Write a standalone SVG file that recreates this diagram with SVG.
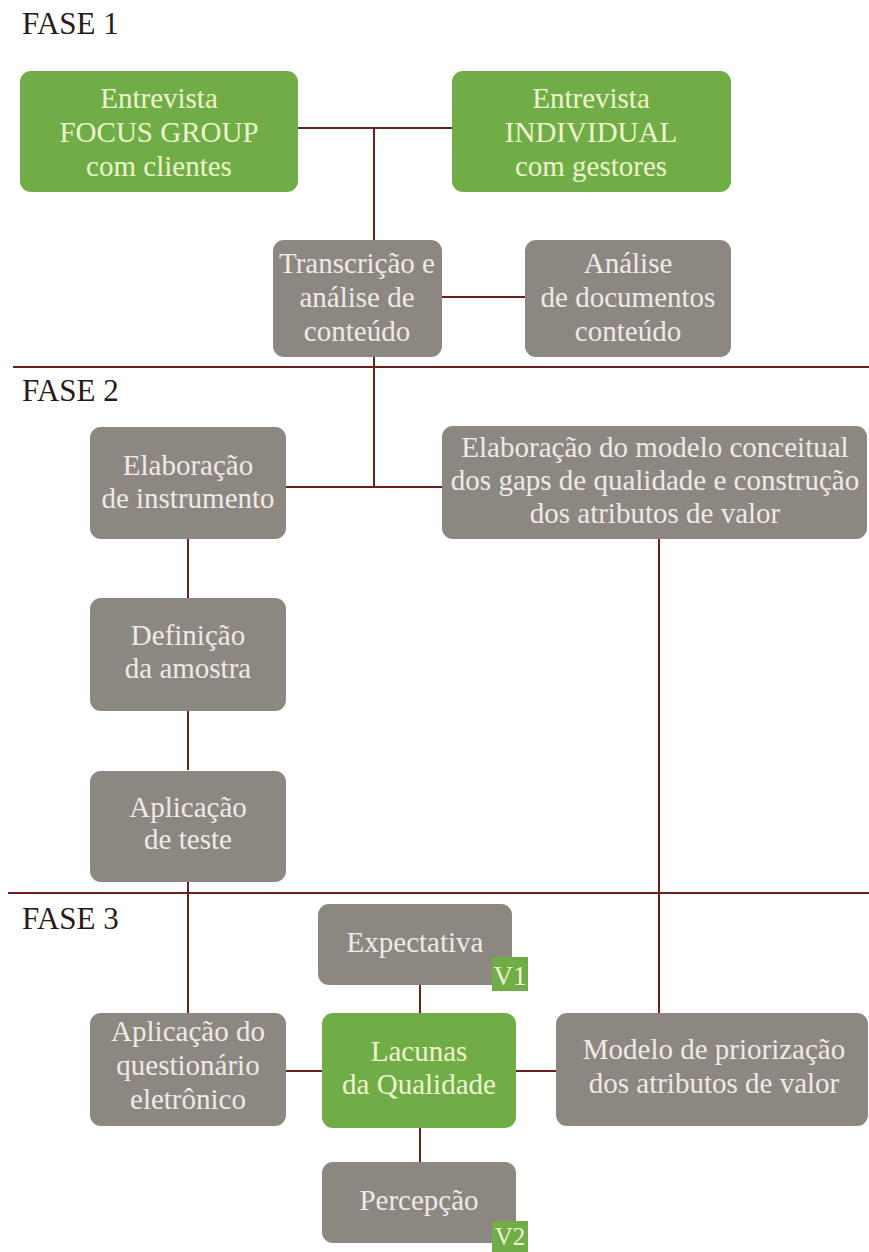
<svg xmlns="http://www.w3.org/2000/svg" width="869" height="1252" viewBox="0 0 869 1252">
<style>
.g{fill:#70ad47}
.y{fill:#8d8782}
.t{font-family:'Liberation Serif','Times New Roman',serif;font-size:29px;text-anchor:middle}
.tg{fill:#eef5cf}
.ty{fill:#efeae6}
.ph{font-family:'Liberation Serif','Times New Roman',serif;font-size:31px;fill:#2a1a14}
.ln{stroke:#6e1f1c;stroke-width:2;fill:none}
.v{font-size:27px}
</style>
<rect width="869" height="1252" fill="#ffffff"/>
<g id="phases">
<text class="ph" x="22" y="34">FASE 1</text>
<text class="ph" x="22" y="401">FASE 2</text>
<text class="ph" x="22" y="929">FASE 3</text>
</g>
<g id="connectors" class="ln">
<line x1="13" y1="367" x2="869" y2="367"/>
<line x1="8" y1="893" x2="869" y2="893"/>
<line x1="298" y1="128" x2="452" y2="128"/>
<line x1="374" y1="128" x2="374" y2="240"/>
<line x1="442" y1="297" x2="525" y2="297"/>
<line x1="374" y1="357" x2="374" y2="487"/>
<line x1="286" y1="487" x2="442" y2="487"/>
<line x1="188" y1="539" x2="188" y2="598"/>
<line x1="188" y1="711" x2="188" y2="770"/>
<line x1="188" y1="880" x2="188" y2="1013"/>
<line x1="659" y1="539" x2="659" y2="1013"/>
<line x1="420" y1="985" x2="420" y2="1013"/>
<line x1="286" y1="1071" x2="322" y2="1071"/>
<line x1="516" y1="1071" x2="556" y2="1071"/>
<line x1="420" y1="1128" x2="420" y2="1162"/>
</g>
<g id="n1"><rect class="g" x="20" y="71" width="278" height="121" rx="11"/>
<text class="t tg" x="159" y="108">Entrevista</text><text class="t tg" x="159" y="142">FOCUS GROUP</text><text class="t tg" x="159" y="176">com clientes</text></g>
<g id="n2"><rect class="g" x="452" y="71" width="279" height="121" rx="11"/>
<text class="t tg" x="591" y="108">Entrevista</text><text class="t tg" x="591" y="142">INDIVIDUAL</text><text class="t tg" x="591" y="176">com gestores</text></g>
<g id="n3"><rect class="y" x="273" y="240" width="169" height="117" rx="11"/>
<text class="t ty" x="357" y="273">Transcrição e</text><text class="t ty" x="357" y="307">análise de</text><text class="t ty" x="357" y="341">conteúdo</text></g>
<g id="n4"><rect class="y" x="525" y="240" width="206" height="117" rx="11"/>
<text class="t ty" x="628" y="273">Análise</text><text class="t ty" x="628" y="307">de documentos</text><text class="t ty" x="628" y="341">conteúdo</text></g>
<g id="n5"><rect class="y" x="90" y="427" width="196" height="112" rx="11"/>
<text class="t ty" x="188" y="475">Elaboração</text><text class="t ty" x="188" y="508">de instrumento</text></g>
<g id="n6"><rect class="y" x="442" y="426" width="425" height="113" rx="11"/>
<text class="t ty" x="655" y="457">Elaboração do modelo conceitual</text><text class="t ty" x="655" y="490">dos gaps de qualidade e construção</text><text class="t ty" x="655" y="523">dos atributos de valor</text></g>
<g id="n7"><rect class="y" x="90" y="598" width="196" height="113" rx="11"/>
<text class="t ty" x="188" y="645">Definição</text><text class="t ty" x="188" y="678">da amostra</text></g>
<g id="n8"><rect class="y" x="90" y="771" width="196" height="111" rx="11"/>
<text class="t ty" x="188" y="817">Aplicação</text><text class="t ty" x="188" y="849">de teste</text></g>
<g id="n9"><rect class="y" x="318" y="904" width="194" height="81" rx="11"/>
<text class="t ty" x="415" y="952">Expectativa</text>
<rect class="g" x="492" y="957" width="36" height="34"/><text class="t tg v" x="510" y="985">V1</text></g>
<g id="n10"><rect class="y" x="90" y="1013" width="196" height="113" rx="11"/>
<text class="t ty" x="188" y="1041">Aplicação do</text><text class="t ty" x="188" y="1075">questionário</text><text class="t ty" x="188" y="1109">eletrônico</text></g>
<g id="n11"><rect class="g" x="322" y="1013" width="194" height="115" rx="11"/>
<text class="t tg" x="419" y="1061">Lacunas</text><text class="t tg" x="419" y="1094">da Qualidade</text></g>
<g id="n12"><rect class="y" x="556" y="1013" width="312" height="113" rx="11"/>
<text class="t ty" x="714" y="1059">Modelo de priorização</text><text class="t ty" x="714" y="1093">dos atributos de valor</text></g>
<g id="n13"><rect class="y" x="322" y="1162" width="194" height="81" rx="11"/>
<text class="t ty" x="419" y="1210">Percepção</text>
<rect class="g" x="492" y="1221" width="36" height="31"/><text class="t tg" x="510" y="1245" style="font-size:25px">V2</text></g>
</svg>
